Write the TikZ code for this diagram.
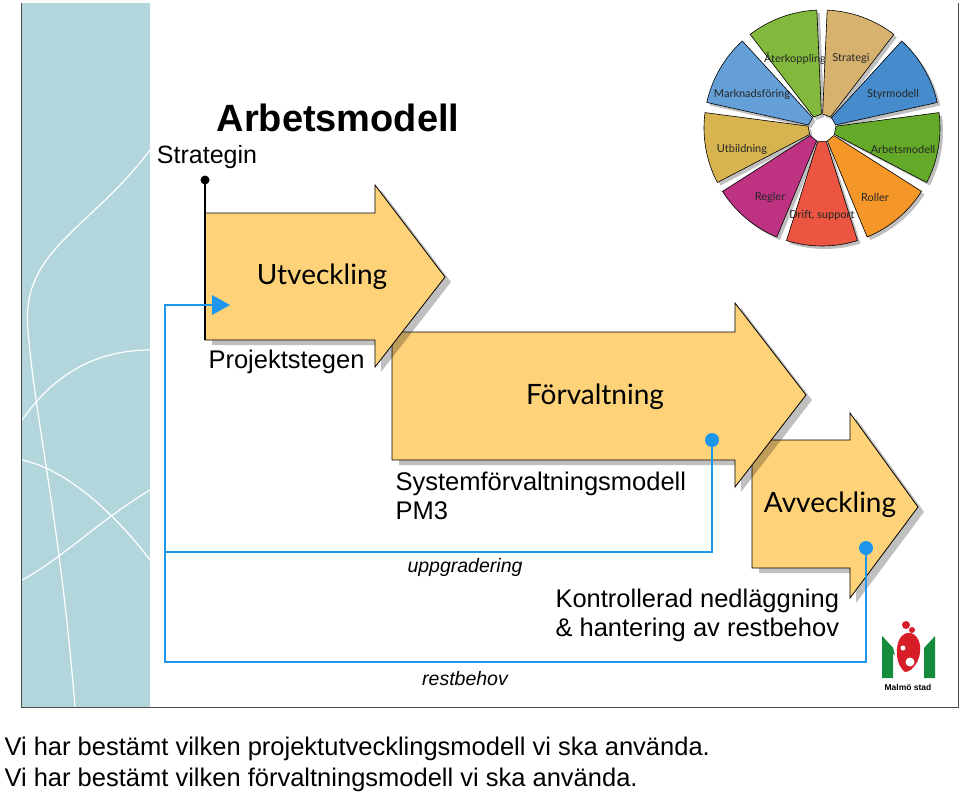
\documentclass[tikz,border=0pt]{standalone}
\usepackage{fontspec}
\setmainfont{Liberation Sans}
\newfontfamily\gill{Lato}
\usetikzlibrary{arrows.meta}

\definecolor{strip}{RGB}{178,214,220}
\definecolor{arrowfill}{RGB}{253,210,120}
\definecolor{loopblue}{RGB}{30,150,235}
\definecolor{wA}{RGB}{215,178,110}
\definecolor{wB}{RGB}{70,140,205}
\definecolor{wC}{RGB}{100,170,40}
\definecolor{wD}{RGB}{245,150,40}
\definecolor{wE}{RGB}{235,85,65}
\definecolor{wF}{RGB}{190,50,130}
\definecolor{wG}{RGB}{215,180,80}
\definecolor{wH}{RGB}{100,160,215}
\definecolor{wI}{RGB}{130,185,60}
\definecolor{mgreen}{RGB}{20,140,60}
\definecolor{mred}{RGB}{215,30,40}

\tikzset{
  phase/.style={draw=black, line width=0.8pt, fill=arrowfill},
  phaseshadow/.style={fill=black, fill opacity=0.25},
  loop/.style={draw=loopblue, line width=2.6pt},
  phasetext/.style={font=\gill\fontsize{28}{28}\selectfont},
  note/.style={font=\fontsize{25.5}{29}\selectfont, align=left},
  loopnote/.style={font=\itshape\fontsize{19.5}{20}\selectfont},
  sector/.style={draw=black, line width=0.6pt},
  wheeltext/.style={font=\gill\fontsize{11}{11}\selectfont, text=black!85}
}

\begin{document}
\begin{tikzpicture}[x=1pt,y=-1pt]
\useasboundingbox (0,0) rectangle (960,795);

%slide frame and strip
\fill[strip] (22,3) rectangle (150,707);
\draw[white, line width=1.2pt] (150,150) .. controls (90,230) and (20,250) .. (28,330) .. controls (35,420) and (60,520) .. (75,707);
\draw[white, line width=1.2pt] (150,350) .. controls (90,350) and (50,380) .. (22,420);
\draw[white, line width=1.2pt] (150,490) .. controls (100,520) and (60,560) .. (22,580);
\draw[white, line width=1.2pt] (22,460) .. controls (70,470) and (120,520) .. (150,560);
\draw[black!70, line width=0.8pt] (21,3) -- (21,707) -- (958,707) -- (958,3);

%title
\node (title) at (338,118) {\bfseries\fontsize{38}{38}\selectfont Arbetsmodell};
\node (strategin) at (207,157) {\fontsize{25}{25}\selectfont Strategin};

%wheel
\begin{scope}[shift={(825,131)}]
  \foreach \a in {90,50,10,-30,-70,-110,-150,170,130}{
    \fill[black, opacity=0.25] (-\a+2.5:14) -- (-\a+2.5:118) arc[start angle=-\a+2.5, end angle=-\a+37.5, radius=118] -- (-\a+37.5:14) -- cycle;
  }
\end{scope}
\begin{scope}[shift={(822,128)}]
  \foreach \a/\c in {90/wA,50/wB,10/wC,-30/wD,-70/wE,-110/wF,-150/wG,170/wH,130/wI}{
    \draw[sector, fill=\c] (-\a+2.5:14) -- (-\a+2.5:118) arc[start angle=-\a+2.5, end angle=-\a+37.5, radius=118] -- (-\a+37.5:14) -- cycle;
  }
\end{scope}
\node[wheeltext] (w1) at (795,58) {Återkoppling};
\node[wheeltext] (w2) at (851,58) {Strategi};
\node[wheeltext] (w3) at (752,94) {Marknadsföring};
\node[wheeltext] (w4) at (893,94) {Styrmodell};
\node[wheeltext] (w5) at (742,149) {Utbildning};
\node[wheeltext] (w6) at (903,149) {Arbetsmodell};
\node[wheeltext] (w7) at (770,197) {Regler};
\node[wheeltext] (w8) at (822,215) {Drift, support};
\node[wheeltext] (w9) at (875,197) {Roller};

%phase arrows with shadows
\fill[phaseshadow] (759,445) -- (856,445) -- (856,418) -- (924,512) -- (856,603) -- (856,573) -- (759,573) -- cycle;
\draw[phase] (752,440) -- (850,440) -- (850,413) -- (918,507) -- (850,598) -- (850,568) -- (752,568) -- cycle;
\fill[phaseshadow] (399,337) -- (741,337) -- (741,308) -- (812,400) -- (741,492) -- (741,465) -- (399,465) -- cycle;
\draw[phase] (392,332) -- (735,332) -- (735,303) -- (806,395) -- (735,487) -- (735,460) -- (392,460) -- cycle;
\fill[phaseshadow] (212,218) -- (381,218) -- (381,190) -- (451,282) -- (381,372) -- (381,345) -- (212,345) -- cycle;
\draw[phase] (205,213) -- (375,213) -- (375,185) -- (445,277) -- (375,367) -- (375,340) -- (205,340) -- cycle;
\draw[line width=1.4pt] (205,180) -- (205,340);
\fill (205,180) circle (4.5);

\node[phasetext] (utv) at (322,277) {Utveckling};
\node[phasetext] (forv) at (595,397) {Förvaltning};
\node[phasetext] (avv) at (830,505) {Avveckling};
\node[note, anchor=west] (proj) at (205,362) {Projektstegen};
\node[note, anchor=north west] (pm3) at (392,468) {Systemförvaltningsmodell\\PM3};
\node[note, anchor=north west] (kontr) at (552,585) {Kontrollerad nedläggning\\\& hantering av restbehov};
\node[loopnote] (uppg) at (465,567) {uppgradering};
\node[loopnote] (rest) at (465,679) {restbehov};

%feedback loops
\coordinate (uA) at (712,440);
\coordinate (uB) at (866,548);
\coordinate (utvin) at (230,305);
\draw[loop] (uA) -- (712,552) -- (165,552) -- (165,305) -- (214,305);
\draw[loop] (uB) -- (866,662) -- (165,662) -- (165,552);
\fill[loopblue] (utvin) -- ++(-18,-10) -- ++(0,20) -- cycle;
\fill[loopblue] (uA) circle (7);
\fill[loopblue] (uB) circle (7);

%logo
\fill[mgreen] (882,636) -- (893,648) -- (893,678) -- (882,678) -- cycle;
\fill[mgreen] (935,636) -- (924,648) -- (924,678) -- (935,678) -- cycle;
\fill[mgreen] (882,636) -- (893,648) -- (895,655) -- (882,645) -- cycle;
\fill[mred] (906,625) circle (4);
\fill[mred] (912,630) circle (3);
\fill[mred] (899,640) .. controls (905,628) and (918,632) .. (920,645) .. controls (922,660) and (912,672) .. (905,672) .. controls (896,665) and (895,650) .. (899,640) -- cycle;
\fill[white] (910,662) circle (4.5);
\fill[white] (903,648) circle (2.5);
\node[font=\bfseries\fontsize{8.5}{8.5}\selectfont] (malmo) at (908,687) {Malmö stad};

%caption
\node[anchor=west, font=\fontsize{25.5}{25.5}\selectfont] (cap1) at (1,749) {Vi har bestämt vilken projektutvecklingsmodell vi ska använda.};
\node[anchor=west, font=\fontsize{25.5}{25.5}\selectfont] (cap2) at (1,780) {Vi har bestämt vilken förvaltningsmodell vi ska använda.};
\end{tikzpicture}
\end{document}
